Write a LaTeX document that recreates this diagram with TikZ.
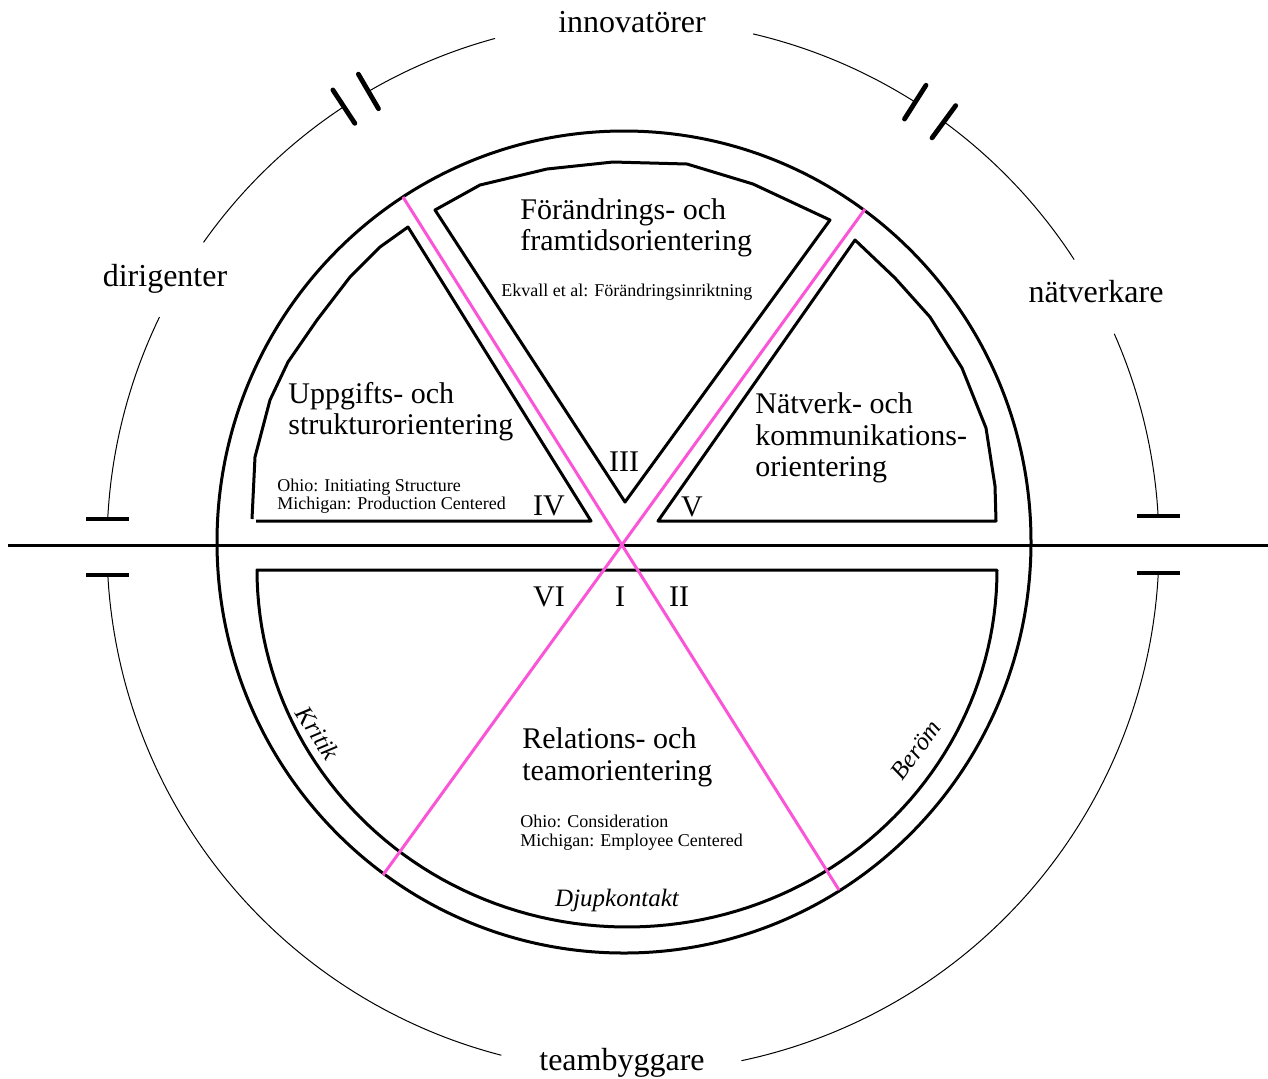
\documentclass[tikz,border=0pt]{standalone}
\usepackage{fontspec}
\setmainfont{Liberation Serif}
\definecolor{pinkline}{RGB}{250,85,215}
\tikzset{
  thickline/.style={line width=1.5pt, line join=round},
  thinarc/.style={line width=0.5pt},
  plate/.style={line width=2.4pt, line cap=round},
  hplate/.style={line width=2pt, line cap=butt},
  pinkstyle/.style={draw=pinkline, line width=1.5pt},
  biglabel/.style={font=\fontsize{16}{19}\selectfont, inner sep=0pt, anchor=base},
  title/.style={font=\fontsize{15}{16}\selectfont, inner sep=0pt, anchor=base west},
  small/.style={font=\fontsize{9}{9.5}\selectfont, inner sep=0pt, anchor=base west},
  numeral/.style={font=\fontsize{15}{16}\selectfont, inner sep=0pt, anchor=base},
  tag/.style={font=\itshape\fontsize{12.5}{14}\selectfont, inner sep=0pt},
}
\newcommand\ringarc[2]{\draw[thinarc] plot[domain=#1:#2, samples=80] ({633+526*cos(\x)},{546-526*sin(\x)});}
\newcommand\ringplate[1]{\draw[plate] ({633+506*cos(#1)},{546-506*sin(#1)}) -- ({633+546*cos(#1)},{546-546*sin(#1)});}
\newcommand\ringhplate[1]{\draw[hplate] ({633+526*cos(#1)-21.5},{546-526*sin(#1)}) -- ({633+526*cos(#1)+21.5},{546-526*sin(#1)});}
\begin{document}
\begin{tikzpicture}[x=0.5pt,y=-0.5pt]
\useasboundingbox (0,0) rectangle (1268,1078);

% thin outer ring, broken by labels and plates
\ringarc{57.55}{76.8}
\ringarc{33.0}{53.77}
\ringarc{3.3}{23.8}
\ringarc{-78.1}{-2.9}
\ringarc{-176.84}{-104.5}
\ringarc{154.2}{177.06}
\ringarc{123.35}{144.74}
\ringarc{105.2}{120.2}
\ringplate{57.55}
\ringplate{53.77}
\ringhplate{3.3}
\ringhplate{-2.9}
\ringhplate{-176.84}
\ringhplate{177.06}
\ringplate{123.35}
\ringplate{120.2}

% thick outer circle and axis
\draw[thickline] (624,542) circle[x radius=203.5pt, y radius=205.5pt];
\coordinate (axL) at (8,545);
\coordinate (axR) at (1268,545);
\draw[thickline] (axL) -- (axR);

% sector IV
\draw[thickline] (252,519) -- (255,457) -- (270,400) -- (288,362) -- (317,320) -- (350,277) -- (380,247) -- (408,227) -- (591,521) -- (256,521);
% sector III
\draw[thickline] (435,210) -- (625,502) -- (830,220) -- (753,184) -- (687,164) -- (613,162) -- (547,169) -- (480,185) -- cycle;
% sector V
\draw[thickline] (855,240) -- (658,521) -- (996,521) -- (995,486) -- (986,428) -- (962,368) -- (930,317) -- (895,278) -- cycle;
% lower region
\draw[thickline] (997,570) -- (257,570) -- plot[domain=180:360, samples=100] ({627+370*cos(\x)},{570-357*sin(\x)}) -- cycle;

% pink diagonals
\coordinate (pA1) at (403,197);
\coordinate (pA2) at (839,890);
\coordinate (pB1) at (865,209);
\coordinate (pB2) at (383,875);
\draw[pinkstyle] (pA1) -- (pA2);
\draw[pinkstyle] (pB1) -- (pB2);

% outer labels
\node[biglabel] (innov) at (632,32) {innovatörer};
\node[biglabel] (dirig) at (165,286) {dirigenter};
\node[biglabel] (natv) at (1096,302) {nätverkare};
\node[biglabel] (teamb) at (622,1070) {teambyggare};

% sector texts
\node[title] (t3a) at (520,219) {Förändrings- och};
\node[title] (t3b) at (520,250) {framtidsorientering};
\node[small] (s3) at (501,296) {Ekvall et al: Förändringsinriktning};
\node[title] (t4a) at (288,403) {Uppgifts- och};
\node[title] (t4b) at (288,434) {strukturorientering};
\node[small] (s4a) at (277,491) {Ohio: Initiating Structure};
\node[small] (s4b) at (277,509) {Michigan: Production Centered};
\node[title] (t5a) at (755,413) {Nätverk- och};
\node[title] (t5b) at (755,445) {kommunikations-};
\node[title] (t5c) at (755,476) {orientering};
\node[title] (t1a) at (522,748) {Relations- och};
\node[title] (t1b) at (522,780) {teamorientering};
\node[small] (s1a) at (520,827) {Ohio: Consideration};
\node[small] (s1b) at (520,846) {Michigan: Employee Centered};

% numerals
\node[numeral] (nIII) at (624,471) {III};
\node[numeral] (nIV) at (549,515) {IV};
\node[numeral] (nV) at (692,516) {V};
\node[numeral] (nVI) at (549,606) {VI};
\node[numeral] (nI) at (620,606) {I};
\node[numeral] (nII) at (679,606) {II};

% italic tags
\node[tag, rotate=-57] (kritik) at (318,733) {Kritik};
\node[tag, rotate=54] (berom) at (916,750) {Beröm};
\node[tag, anchor=base] (djup) at (617,906) {Djupkontakt};
\end{tikzpicture}
\end{document}
